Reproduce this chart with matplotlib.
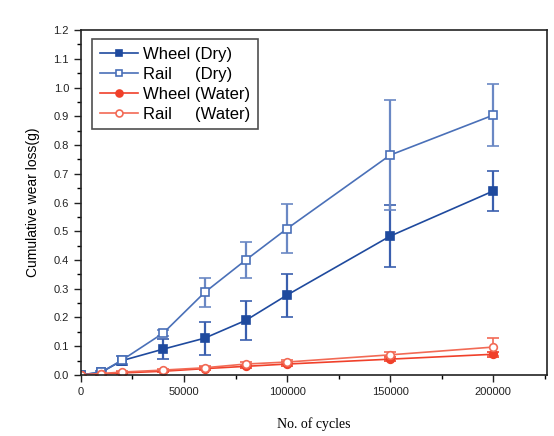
import matplotlib
matplotlib.use("Agg")
import matplotlib.pyplot as plt
from matplotlib.ticker import MultipleLocator
from matplotlib.lines import Line2D

cycles = [0, 10000, 20000, 40000, 60000, 80000, 100000, 150000, 200000]
wheel_dry = [0.0, 0.01, 0.05, 0.09, 0.128, 0.19, 0.278, 0.483, 0.64]
wheel_dry_err = [0.0, 0.005, 0.015, 0.035, 0.057, 0.068, 0.075, 0.107, 0.068]
rail_dry = [0.0, 0.01, 0.052, 0.146, 0.287, 0.40, 0.509, 0.765, 0.904]
rail_dry_err = [0.0, 0.005, 0.015, 0.01, 0.05, 0.064, 0.085, 0.19, 0.107]
wheel_water = [0.0, 0.003, 0.007, 0.013, 0.022, 0.030, 0.038, 0.055, 0.072]
wheel_water_err = [0.0, 0.002, 0.003, 0.004, 0.005, 0.005, 0.006, 0.008, 0.008]
rail_water = [0.0, 0.005, 0.010, 0.017, 0.025, 0.038, 0.045, 0.070, 0.097]
rail_water_err = [0.0, 0.002, 0.003, 0.004, 0.005, 0.006, 0.007, 0.010, 0.030]
labels = ['Wheel (Dry)', 'Rail     (Dry)', 'Wheel (Water)', 'Rail     (Water)']

plt.rcParams['font.family'] = ['Liberation Sans', 'DejaVu Sans']

fig = plt.figure(figsize=(5.54, 4.36), dpi=100)
ax = fig.add_axes([0.146, 0.140, 0.841, 0.791])

dark_blue = '#1f4a9e'
light_blue = '#4a70b8'
red = '#f0402a'
light_red = '#f26a55'

specs = [
    (wheel_dry, wheel_dry_err, dark_blue, 's', dark_blue, '#3a5fae', 1.6),
    (rail_dry, rail_dry_err, light_blue, 's', 'white', '#6a88c4', 1.6),
    (wheel_water, wheel_water_err, red, 'o', red, red, 1.2),
    (rail_water, rail_water_err, light_red, 'o', 'white', light_red, 1.2),
]
handles = []
for (vals, err, col, mk, mfc, ecol, elw), lab in zip(specs, labels):
    ax.errorbar(cycles, vals, yerr=err, color=col, marker=mk, ms=5.5, mfc=mfc, mec=col,
                mew=1.2, lw=1.2, elinewidth=elw, capsize=4, capthick=1.2, ecolor=ecol)
    handles.append(Line2D([], [], color=col, marker=mk, ms=5, mfc=mfc, mec=col, mew=1.2,
                          lw=1.2, label=lab))

ax.set_xlim(0, 226000)
ax.set_ylim(0, 1.2)
ax.xaxis.set_major_locator(MultipleLocator(50000))
ax.xaxis.set_minor_locator(MultipleLocator(25000))
ax.yaxis.set_major_locator(MultipleLocator(0.1))
ax.yaxis.set_minor_locator(MultipleLocator(0.05))
ax.yaxis.set_major_formatter(plt.FuncFormatter(lambda v, p: f'{v:.1f}'))
ax.tick_params(which='major', direction='out', length=5, width=1, labelsize=8, colors='#222222')
ax.tick_params(which='minor', direction='out', length=3, width=1)
for s in ax.spines.values():
    s.set_linewidth(1.2)
    s.set_color('#222222')

ax.set_xlabel('No. of cycles', family=['Liberation Serif'], fontsize=10, labelpad=15)
ax.set_ylabel('Cumulative wear loss(g)', fontsize=10, labelpad=10)

leg = ax.legend(handles=handles, loc='upper left', bbox_to_anchor=(0.024, 0.974), fontsize=12,
                frameon=True, fancybox=False, edgecolor='#222222', handlelength=2.3,
                borderpad=0.45, labelspacing=0.3, handletextpad=0.3, borderaxespad=0)
leg.get_frame().set_linewidth(1.2)

fig.savefig('out.png', dpi=100)
